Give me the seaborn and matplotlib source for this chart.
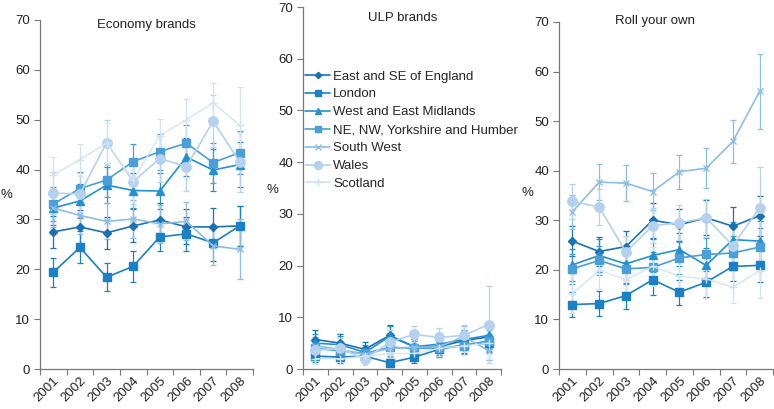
import numpy as np
import pandas as pd
import matplotlib
matplotlib.use("Agg")
import matplotlib.pyplot as plt
import seaborn as sns

# ── data ──────────────────────────────────────────────────────────────────────
years = [2001, 2002, 2003, 2004, 2005, 2006, 2007, 2008]
regions = ["East and SE of England", "London", "West and East Midlands",
           "NE, NW, Yorkshire and Humber", "South West", "Wales", "Scotland"]

economy = {
    "East and SE of England":       [27.5, 28.5, 27.3, 28.7, 29.9, 28.5, 28.5, 28.7],
    "London":                       [19.4, 24.4, 18.4, 20.6, 26.5, 27.1, 25.3, 28.7],
    "West and East Midlands":       [32.3, 33.7, 36.9, 35.8, 35.7, 42.5, 39.9, 41.0],
    "NE, NW, Yorkshire and Humber": [33.1, 36.2, 37.9, 41.6, 43.6, 45.3, 41.4, 43.4],
    "South West":                   [32.3, 30.8, 29.6, 30.1, 29.1, 29.6, 24.7, 24.0],
    "Wales":                        [35.3, 35.1, 45.4, 37.6, 42.2, 40.6, 49.7, 41.6],
    "Scotland":                     [38.9, 42.0, 45.3, 37.9, 46.8, 50.0, 53.4, 48.9],
}
economy_err = {
    "East and SE of England":       [3.2, 3.3, 3.2, 3.3, 3.3, 3.5, 3.8, 4.0],
    "London":                       [2.9, 3.2, 2.8, 3.1, 2.9, 3.4, 3.6, 4.0],
    "West and East Midlands":       [3.5, 3.5, 3.6, 3.6, 3.7, 3.8, 4.2, 4.5],
    "NE, NW, Yorkshire and Humber": [3.4, 3.4, 3.5, 3.6, 3.6, 3.7, 4.0, 4.3],
    "South West":                   [3.8, 3.8, 3.6, 3.8, 3.8, 3.8, 3.8, 6.0],
    "Wales":                        [4.2, 4.3, 4.5, 4.5, 4.6, 4.8, 5.2, 6.0],
    "Scotland":                     [3.6, 3.2, 4.0, 4.2, 3.3, 4.1, 4.0, 7.7],
}

ulp = {
    "East and SE of England":       [5.7, 5.0, 3.8, 6.5, 4.3, 4.3, 5.5, 6.2],
    "London":                       [2.5, 2.3, 2.5, 1.2, 2.3, 3.8, 4.7, 5.0],
    "West and East Midlands":       [5.0, 4.7, 3.2, 6.3, 4.3, 4.8, 5.7, 6.5],
    "NE, NW, Yorkshire and Humber": [4.0, 3.5, 3.0, 4.2, 4.0, 4.0, 4.5, 5.5],
    "South West":                   [4.5, 3.8, 2.8, 4.0, 4.2, 4.3, 6.3, 3.5],
    "Wales":                        [3.6, 4.0, 1.9, 5.2, 6.7, 6.1, 6.5, 8.6],
    "Scotland":                     [2.0, 2.0, 2.5, 3.0, 3.0, 4.0, 4.5, 5.0],
}
ulp_err = {
    "East and SE of England":       [1.8, 1.7, 1.5, 2.1, 1.5, 1.6, 1.9, 2.3],
    "London":                       [1.2, 1.1, 1.2, 0.8, 1.1, 1.4, 1.6, 1.8],
    "West and East Midlands":       [1.7, 1.6, 1.4, 2.0, 1.5, 1.6, 1.9, 2.4],
    "NE, NW, Yorkshire and Humber": [1.5, 1.4, 1.3, 1.6, 1.5, 1.5, 1.6, 2.0],
    "South West":                   [1.7, 1.6, 1.4, 1.6, 1.6, 1.7, 2.0, 1.7],
    "Wales":                        [1.8, 1.9, 1.2, 2.3, 1.7, 1.9, 2.0, 7.4],
    "Scotland":                     [1.0, 1.0, 1.2, 1.3, 1.3, 1.5, 1.7, 2.8],
}

roll = {
    "East and SE of England":       [25.8, 23.7, 24.7, 30.0, 29.1, 30.5, 28.8, 30.9],
    "London":                       [13.0, 13.2, 14.8, 18.0, 15.5, 17.5, 20.7, 20.9],
    "West and East Midlands":       [21.0, 22.9, 21.2, 22.9, 24.1, 20.9, 26.1, 25.8],
    "NE, NW, Yorkshire and Humber": [20.2, 21.9, 20.2, 20.5, 22.4, 23.1, 23.4, 24.6],
    "South West":                   [31.7, 37.7, 37.5, 35.8, 39.8, 40.5, 45.9, 56.0],
    "Wales":                        [33.8, 32.7, 23.6, 28.9, 29.5, 30.5, 24.9, 32.5],
    "Scotland":                     [15.2, 19.9, 18.0, 20.7, 18.7, 18.2, 16.5, 19.8],
}
roll_err = {
    "East and SE of England":       [3.0, 3.0, 3.2, 3.5, 3.2, 3.5, 3.8, 4.0],
    "London":                       [2.5, 2.5, 2.6, 3.0, 2.5, 3.0, 3.0, 3.3],
    "West and East Midlands":       [3.2, 3.3, 3.2, 3.4, 3.3, 3.5, 3.6, 4.0],
    "NE, NW, Yorkshire and Humber": [3.0, 3.0, 3.0, 3.2, 3.2, 3.3, 3.5, 3.8],
    "South West":                   [3.5, 3.6, 3.6, 3.7, 3.4, 4.0, 4.3, 7.6],
    "Wales":                        [3.5, 3.6, 3.3, 3.5, 3.5, 3.8, 3.8, 8.2],
    "Scotland":                     [4.0, 3.8, 3.7, 3.9, 3.7, 3.8, 3.2, 5.5],
}

titles = ["Economy brands", "ULP brands", "Roll your own"]

# ── styling ───────────────────────────────────────────────────────────────────
palette = {
    "East and SE of England":       "#1a72b5",
    "London":                       "#1b80c4",
    "West and East Midlands":       "#2391d0",
    "NE, NW, Yorkshire and Humber": "#4a9fd8",
    "South West":                   "#8bbde5",
    "Wales":                        "#b4d1ed",
    "Scotland":                     "#d0e2f3",
}
markers = {
    "East and SE of England":       "D",
    "London":                       "s",
    "West and East Midlands":       "^",
    "NE, NW, Yorkshire and Humber": "s",
    "South West":                   "x",
    "Wales":                        "o",
    "Scotland":                     "+",
}
msizes = {"D": 3.8, "s": 5.2, "^": 5.2, "x": 5, "o": 6.8, "+": 6}
FS = 9.5

sns.set_style("white")
plt.rcParams["font.family"] = ["Liberation Sans", "DejaVu Sans"]
plt.rcParams["font.size"] = FS

fig = plt.figure(figsize=(7.74, 4.09), dpi=100)
W, H = 774, 409
# axes boxes in pixels: (left, right, top, bottom)
boxes = [(40, 253, 20, 369), (303, 501, 7, 369), (559, 773, 22, 369)]
axes = [fig.add_axes([l / W, 1 - b / H, (r - l) / W, (b - t) / H]) for l, r, t, b in boxes]


def draw_panel(ax, values, errors):
    for reg in regions:
        # error bars first so markers sit on top
        ax.errorbar(years, values[reg], yerr=errors[reg], fmt="none",
                    ecolor=palette[reg], elinewidth=0.9, capsize=2.2,
                    capthick=0.9, zorder=1)
    for reg in regions:
        m = markers[reg]
        sns.lineplot(x=years, y=values[reg], color=palette[reg], marker=m,
                     markersize=msizes[m], markeredgecolor=palette[reg],
                     markeredgewidth=1.0,
                     linewidth=0.9 if reg == "Scotland" else 1.2,
                     ax=ax, zorder=2)

    ax.set_xlim(2000.5, 2008.5)
    ax.set_ylim(0, 70)
    ax.set_yticks(range(0, 71, 10))
    ax.set_xticks(years)
    ax.set_xticks(np.arange(2000.5, 2009, 1), minor=True)
    ax.set_xticklabels([str(y) for y in years], rotation=45, ha="right",
                       va="top", rotation_mode="anchor")
    ax.tick_params(axis="x", which="major", length=0, pad=4)
    ax.tick_params(axis="x", which="minor", length=4, width=0.8,
                   color="#777777", direction="out", bottom=True)
    ax.tick_params(axis="y", length=4, width=0.8, color="#777777",
                   direction="out", left=True, pad=3)
    ax.tick_params(labelsize=FS, labelcolor="#222222")
    ax.set_xlabel("")
    ax.set_ylabel("")
    sns.despine(ax=ax)
    for s in ("left", "bottom"):
        ax.spines[s].set_color("#777777")
        ax.spines[s].set_linewidth(0.9)


for ax, vals, errs in zip(axes, [economy, ulp, roll], [economy_err, ulp_err, roll_err]):
    draw_panel(ax, vals, errs)

# titles and % labels (positions from the reference, in pixels)
for (tx, ty), t in zip([(146, 25), (403, 18), (655, 21)], titles):
    fig.text(tx / W, 1 - ty / H, t, ha="center", va="center", fontsize=FS,
             color="#222222")
for px, py in [(6, 195), (272, 190), (527, 193)]:
    fig.text(px / W, 1 - py / H, "%", ha="center", va="center", fontsize=FS,
             color="#222222")

# legend in the middle panel
handles = [plt.Line2D([], [], color=palette[r], marker=markers[r],
                      markersize=msizes[markers[r]] * 0.85,
                      markeredgecolor=palette[r], linewidth=1.2)
           for r in regions]
axes[1].legend(handles, regions, loc="upper left", bbox_to_anchor=(0.01, 0.825),
               frameon=False, fontsize=FS, handlelength=1.9, handletextpad=0.25,
               labelspacing=0.43, borderaxespad=0, borderpad=0)

fig.savefig("out.png", dpi=100)
